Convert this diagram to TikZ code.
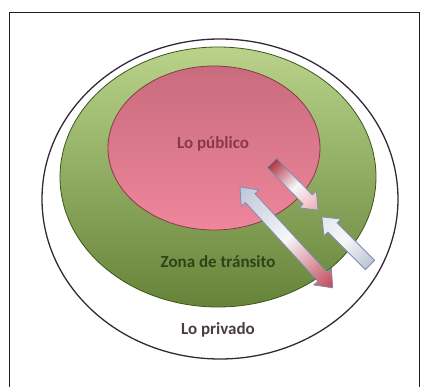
\documentclass[tikz,border=0pt]{standalone}
\usepackage{fontspec}
\setmainfont{Carlito}
\usetikzlibrary{fadings}
\definecolor{frame}{HTML}{1E1E1E}
\definecolor{outring}{HTML}{35283A}
\definecolor{gtop}{HTML}{B9D38A}
\definecolor{gmid}{HTML}{9DBA68}
\definecolor{gbot}{HTML}{66833A}
\definecolor{grim}{HTML}{3E5619}
\definecolor{ptop}{HTML}{C86C7D}
\definecolor{pmid}{HTML}{EEAAB7}
\definecolor{pbot}{HTML}{EF869C}
\definecolor{prim}{HTML}{8A3A44}
\definecolor{arline}{HTML}{7F8CB0}
\definecolor{arred}{HTML}{B23444}
\definecolor{arred2}{HTML}{C24452}
\definecolor{arpink}{HTML}{EDAAB3}
\definecolor{argray}{HTML}{BFC6D6}
\definecolor{arwhite}{HTML}{F6F7FA}
\definecolor{arlight}{HTML}{E2E6EE}
\definecolor{txpub}{HTML}{8A3848}
\definecolor{txzona}{HTML}{2E4418}
\definecolor{txpriv}{HTML}{4A3C44}
\pgfdeclareradialshading{whitering}{\pgfpoint{0bp}{0bp}}{color(0bp)=(white); color(43.5bp)=(white); color(48.4bp)=(black!34); color(49.3bp)=(black!12); color(50bp)=(black!55)}
\pgfdeclareradialshading{rimshade}{\pgfpoint{0bp}{0bp}}{color(0bp)=(black); color(41bp)=(black); color(47.5bp)=(black!78); color(50bp)=(black!40)}
\pgfdeclarefading{rimfade}{\pgfuseshading{rimshade}}
\tikzset{
  lbl/.style={font=\fontsize{17}{19}\selectfont\bfseries, inner sep=0pt},
  arrowshape/.style={draw=arline, line width=0.8pt, line join=miter}
}
% gradient-filled block arrow drawn in local (rotated) coordinates
% #1 path, #2 length, #3 start colour, #4 middle colour, #5 end colour
\newcommand\gradarrow[5]{%
  \begin{scope}
    \clip #1;
    \foreach \i in {0,...,39}{%
      \pgfmathsetmacro\xa{#2*\i/40}%
      \pgfmathsetmacro\pp{\i<20 ? 100*\i/20 : 100*(\i-20)/20}%
      \ifnum\i<20 \colorlet{gc}{#4!\pp!#3}\else\colorlet{gc}{#5!\pp!#4}\fi
      \fill[gc] (\xa,-14) rectangle ++(#2/40+0.6,28);
    }
  \end{scope}
  \draw[arrowshape] #1;
}
\begin{document}
\begin{tikzpicture}[x=1pt,y=-1pt]
\useasboundingbox (0,0) rectangle (421,387);
\fill[white] (0,0) rectangle (421,387);
\clip (0,0) rectangle (421,387);
\draw[line width=1.4pt, frame] (9.5,395) -- (9.5,12.5) -- (419.5,12.5) -- (419.5,395);
% outer white ellipse (lo privado)
\shade[shading=whitering] (220,199) ellipse [x radius=178, y radius=160];
\draw[line width=1.3pt, outring] (220,199) ellipse [x radius=178, y radius=160];
% green ellipse (zona de transito)
\shade[top color=gtop, middle color=gmid, bottom color=gbot] (218,177) ellipse [x radius=158, y radius=130];
\fill[grim, path fading=rimfade] (218,177) ellipse [x radius=158, y radius=130];
\draw[line width=0.8pt, grim] (218,177) ellipse [x radius=158, y radius=130];
% pink ellipse (lo publico)
\shade[top color=ptop, middle color=pmid, bottom color=pbot] (214,148) ellipse [x radius=106, y radius=82];
\fill[prim, path fading=rimfade] (214,148) ellipse [x radius=106, y radius=82];
\draw[line width=0.8pt, prim] (214,148) ellipse [x radius=106, y radius=82];
% labels
\node[lbl, txpub] (pub) at (213,144) {Lo público};
\node[lbl, txzona] (zona) at (218,262) {Zona de tránsito};
\node[lbl, txpriv] (priv) at (218,330) {Lo privado};
% arrow 1: red tail -> pink head
\begin{scope}[shift={(272,163)}, rotate=-45.6]
\gradarrow{(0,-6.5) -- (51,-6.5) -- (51,-12) -- (66,0) -- (51,12) -- (51,6.5) -- (0,6.5) -- cycle}{66}{arred}{arwhite}{arpink}
\end{scope}
% arrow 2: double arrow
\begin{scope}[shift={(240,187)}, rotate=-47.4]
\gradarrow{(0,0) -- (15,-12) -- (15,-6.5) -- (122,-6.5) -- (122,-12) -- (137,0) -- (122,12) -- (122,6.5) -- (15,6.5) -- (15,12) -- cycle}{137}{argray}{arwhite}{arred2}
\end{scope}
% arrow 3: white arrow pointing up-left
\begin{scope}[shift={(370,265)}, rotate=135]
\gradarrow{(0,-6.5) -- (53,-6.5) -- (53,-12) -- (68,0) -- (53,12) -- (53,6.5) -- (0,6.5) -- cycle}{68}{argray}{arwhite}{arlight}
\end{scope}
\end{tikzpicture}
\end{document}
